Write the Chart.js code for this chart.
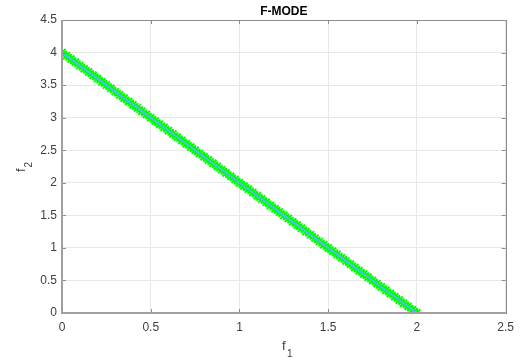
<!DOCTYPE html>
<html>
<head>
<meta charset="utf-8">
<script src="https://cdn.jsdelivr.net/npm/chart.js@4/dist/chart.umd.min.js"></script>
<style>
  html, body { margin: 0; padding: 0; background: #fff; }
  #wrap { width: 521px; height: 364px; position: relative; }
</style>
</head>
<body>
<div id="wrap"><canvas id="c" width="521" height="364"></canvas></div>
<script>
// Pareto front points (objective 1 and objective 2)
const f1Values = [
  0, 0.025, 0.05, 0.075, 0.1, 0.125, 0.15, 0.175, 0.2, 0.225,
  0.25, 0.275, 0.3, 0.325, 0.35, 0.375, 0.4, 0.425, 0.45, 0.475,
  0.5, 0.525, 0.55, 0.575, 0.6, 0.625, 0.65, 0.675, 0.7, 0.725,
  0.75, 0.775, 0.8, 0.825, 0.85, 0.875, 0.9, 0.925, 0.95, 0.975,
  1, 1.025, 1.05, 1.075, 1.1, 1.125, 1.15, 1.175, 1.2, 1.225,
  1.25, 1.275, 1.3, 1.325, 1.35, 1.375, 1.4, 1.425, 1.45, 1.475,
  1.5, 1.525, 1.55, 1.575, 1.6, 1.625, 1.65, 1.675, 1.7, 1.725,
  1.75, 1.775, 1.8, 1.825, 1.85, 1.875, 1.9, 1.925, 1.95, 1.975, 2
];
const f2Values = [
  4, 3.95, 3.9, 3.85, 3.8, 3.75, 3.7, 3.65, 3.6, 3.55,
  3.5, 3.45, 3.4, 3.35, 3.3, 3.25, 3.2, 3.15, 3.1, 3.05,
  3, 2.95, 2.9, 2.85, 2.8, 2.75, 2.7, 2.65, 2.6, 2.55,
  2.5, 2.45, 2.4, 2.35, 2.3, 2.25, 2.2, 2.15, 2.1, 2.05,
  2, 1.95, 1.9, 1.85, 1.8, 1.75, 1.7, 1.65, 1.6, 1.55,
  1.5, 1.45, 1.4, 1.35, 1.3, 1.25, 1.2, 1.15, 1.1, 1.05,
  1, 0.95, 0.9, 0.85, 0.8, 0.75, 0.7, 0.65, 0.6, 0.55,
  0.5, 0.45, 0.4, 0.35, 0.3, 0.25, 0.2, 0.15, 0.1, 0.05, 0
];
const xTicks = [0, 0.5, 1, 1.5, 2, 2.5];
const yTicks = [0, 0.5, 1, 1.5, 2, 2.5, 3, 3.5, 4, 4.5];
const titleText = 'F-MODE';

const points = f1Values.map((x, i) => ({ x: x, y: f2Values[i] }));
const FONT = '"Liberation Sans", Arial, sans-serif';
const axisGray = '#8c8c8c';
const textGray = '#404040';

// Axes decorations: box, inward ticks, title and subscripted axis labels
const decor = {
  id: 'decor',
  afterDraw(chart) {
    const { ctx, chartArea: a, scales } = chart;
    ctx.save();
    ctx.strokeStyle = axisGray;
    ctx.lineWidth = 1;
    ctx.beginPath();
    xTicks.forEach(v => {
      const px = Math.round(scales.x.getPixelForValue(v)) + 0.5;
      ctx.moveTo(px, a.bottom); ctx.lineTo(px, a.bottom - 4);
      ctx.moveTo(px, a.top); ctx.lineTo(px, a.top + 4);
    });
    yTicks.forEach(v => {
      const py = Math.round(scales.y.getPixelForValue(v)) + 0.5;
      ctx.moveTo(a.left, py); ctx.lineTo(a.left + 4, py);
      ctx.moveTo(a.right, py); ctx.lineTo(a.right - 4, py);
    });
    ctx.stroke();
    ctx.strokeRect(Math.round(a.left) + 0.5, Math.round(a.top) + 0.5,
                   Math.round(a.right - a.left), Math.round(a.bottom - a.top));
    // heavier left and bottom axis lines
    ctx.strokeStyle = '#a0a0a0';
    ctx.lineWidth = 2;
    ctx.beginPath();
    ctx.moveTo(Math.round(a.left), a.top);
    ctx.lineTo(Math.round(a.left), Math.round(a.bottom));
    ctx.lineTo(a.right, Math.round(a.bottom));
    ctx.stroke();

    // title
    ctx.fillStyle = '#000';
    ctx.font = 'bold 12px ' + FONT;
    ctx.textAlign = 'center';
    ctx.textBaseline = 'alphabetic';
    ctx.fillText(titleText, (a.left + a.right) / 2, 15);

    // x label f1
    ctx.fillStyle = textGray;
    ctx.font = '13px ' + FONT;
    ctx.textAlign = 'left';
    ctx.fillText('f', 282, 350);
    ctx.font = '10px ' + FONT;
    ctx.fillText('1', 287, 357);

    // y label f2 (rotated)
    ctx.translate(25, 166);
    ctx.rotate(-Math.PI / 2);
    ctx.font = '13px ' + FONT;
    ctx.fillText('f', -6, 0);
    ctx.font = '10px ' + FONT;
    ctx.fillText('2', -1.5, 7);
    ctx.restore();
  }
};

new Chart(document.getElementById('c'), {
  type: 'scatter',
  data: {
    datasets: [
      {
        // connecting line, drawn on top of the markers
        data: points,
        showLine: true,
        borderColor: '#4dbeee',
        borderWidth: 2,
        pointRadius: 0,
        pointHoverRadius: 0,
        order: 0
      },
      {
        // star markers
        data: points,
        showLine: false,
        pointStyle: 'star',
        pointRadius: 5,
        pointBorderWidth: 2,
        pointBorderColor: '#00ff00',
        pointBackgroundColor: '#00ff00',
        pointHoverRadius: 5,
        order: 1
      }
    ]
  },
  options: {
    responsive: false,
    animation: false,
    events: [],
    layout: { padding: { top: 20, right: 9, left: 0, bottom: 0 } },
    plugins: {
      legend: { display: false },
      tooltip: { enabled: false },
      title: { display: false }
    },
    scales: {
      x: {
        type: 'linear',
        min: 0, max: 2.5,
        afterBuildTicks: s => { s.ticks = xTicks.map(v => ({ value: v })); },
        afterFit: s => { s.height = 51; },
        ticks: {
          color: textGray,
          font: { family: FONT, size: 12 },
          padding: 7,
          maxRotation: 0,
          callback: v => String(v)
        },
        grid: { color: '#e8e8e8', drawTicks: false, lineWidth: 1 },
        border: { display: false }
      },
      y: {
        type: 'linear',
        min: 0, max: 4.5,
        afterBuildTicks: s => { s.ticks = yTicks.map(v => ({ value: v })); },
        afterFit: s => { s.width = 62; },
        ticks: {
          color: textGray,
          font: { family: FONT, size: 12 },
          padding: 5,
          callback: v => String(v)
        },
        grid: { color: '#e8e8e8', drawTicks: false, lineWidth: 1 },
        border: { display: false }
      }
    }
  },
  plugins: [decor]
});
</script>
</body>
</html>
